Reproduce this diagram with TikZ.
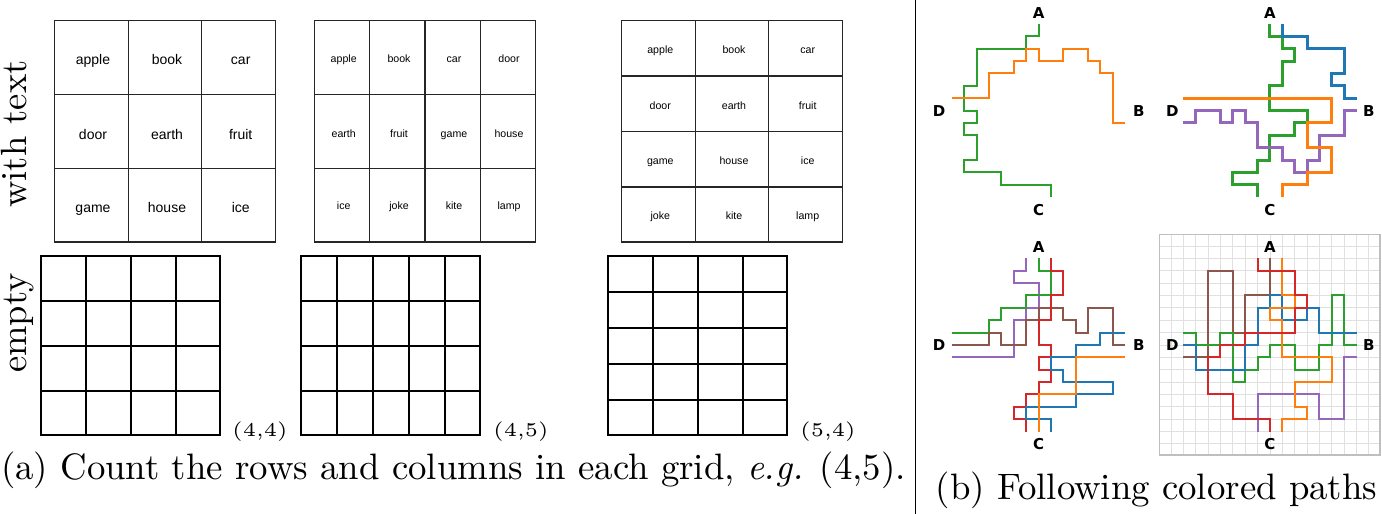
\documentclass[tikz,border=0pt]{standalone}
\usepackage{fontspec}
\setmainfont{lmroman10-regular.otf}[ItalicFont=lmroman10-italic.otf, BoldFont=lmroman10-bold.otf]
\newfontfamily\lmfive{lmroman5-regular.otf}
\newfontfamily\arialf{Liberation Sans}
\newfontfamily\dejaf{DejaVu Sans}
\definecolor{tblue}{HTML}{1F77B4}
\definecolor{torange}{HTML}{FF7F0E}
\definecolor{tgreen}{HTML}{2CA02C}
\definecolor{tred}{HTML}{D62728}
\definecolor{tpurple}{HTML}{9467BD}
\definecolor{tbrown}{HTML}{8C564B}
\tikzset{
  tgrid/.style={draw=black!85, line width=1.1pt},
  egrid/.style={draw=black, line width=2pt},
  wordL/.style={font=\arialf\fontsize{14}{16}\selectfont, anchor=base, inner sep=0pt},
  wordS/.style={font=\arialf\fontsize{10.6}{12}\selectfont, anchor=base, inner sep=0pt},
  dimlab/.style={font=\lmfive\fontsize{19.5}{22}\selectfont, anchor=base, inner sep=0pt},
  caplab/.style={font=\fontsize{36.8}{42}\selectfont, anchor=base, inner sep=0pt},
  sidelab/.style={font=\fontsize{36.5}{42}\selectfont, anchor=base, inner sep=0pt, rotate=90},
  ptlab/.style={font=\dejaf\bfseries\fontsize{15}{18}\selectfont, inner sep=0pt},
  pth/.style={line width=2pt},
  pthick/.style={line width=3pt},
  bggrid/.style={draw=black!12, line width=0.8pt},
  bgbox/.style={draw=black!25, line width=1.2pt}
}
\begin{document}
\begin{tikzpicture}[x=1pt,y=-1pt]
\useasboundingbox (0,0) rectangle (1382,514);
\fill[white] (0,0) rectangle (1382,514);

% ---------- text grid 1 (3x3)
\draw[tgrid] (54.3,20.7) rectangle (275.3,242);
\foreach \x in {128.3,201.7} \draw[tgrid] (\x,20.7) -- (\x,242);
\foreach \y in {94.7,168.7} \draw[tgrid] (54.3,\y) -- (275.3,\y);
\foreach \w/\x in {apple/93,book/167,car/240.7} \node[wordL] (ga-\w) at (\x,64) {\w};
\foreach \w/\x in {door/93,earth/167,fruit/240.7} \node[wordL] (ga-\w) at (\x,139) {\w};
\foreach \w/\x in {game/93,house/167,ice/240.7} \node[wordL] (ga-\w) at (\x,212) {\w};

% ---------- text grid 2 (3 rows x 4 cols)
\draw[tgrid] (314.3,20.7) rectangle (535.3,242);
\foreach \x in {369.7,425,480.3} \draw[tgrid] (\x,20.7) -- (\x,242);
\foreach \y in {94.7,168.7} \draw[tgrid] (314.3,\y) -- (535.3,\y);
\foreach \w/\x in {apple/343.7,book/399,car/454,door/509} \node[wordS] (gb-\w) at (\x,62) {\w};
\foreach \w/\x in {earth/343.7,fruit/399,game/454,house/509} \node[wordS] (gb-\w) at (\x,137) {\w};
\foreach \w/\x in {ice/343.7,joke/399,kite/454,lamp/509} \node[wordS] (gb-\w) at (\x,209.5) {\w};

% ---------- text grid 3 (4 rows x 3 cols)
\draw[tgrid] (621.7,20.7) rectangle (842.3,242);
\foreach \x in {695.3,768.7} \draw[tgrid] (\x,20.7) -- (\x,242);
\foreach \y in {76,131.7,187} \draw[tgrid] (621.7,\y) -- (842.3,\y);
\foreach \w/\x in {apple/660.3,book/734,car/807.7} \node[wordS] (gc-\w) at (\x,53.3) {\w};
\foreach \w/\x in {door/660.3,earth/734,fruit/807.7} \node[wordS] (gc-\w) at (\x,109.3) {\w};
\foreach \w/\x in {game/660.3,house/734,ice/807.7} \node[wordS] (gc-\w) at (\x,164) {\w};
\foreach \w/\x in {joke/660.3,kite/734,lamp/807.7} \node[wordS] (gc-\w) at (\x,219) {\w};

% ---------- empty grids
\draw[egrid] (40.7,255.7) rectangle (220,435);
\foreach \x in {86,130.7,175.7} \draw[egrid] (\x,255.7) -- (\x,435);
\foreach \y in {301,346,390.7} \draw[egrid] (40.7,\y) -- (220,\y);

\draw[egrid] (301,255.7) rectangle (480,435);
\foreach \x in {336.7,372.7,408.7,444.7} \draw[egrid] (\x,255.7) -- (\x,435);
\foreach \y in {301,346,390.7} \draw[egrid] (301,\y) -- (480,\y);

\draw[egrid] (607.7,255.7) rectangle (787,435);
\foreach \x in {652.7,697.7,742.7} \draw[egrid] (\x,255.7) -- (\x,435);
\foreach \y in {291.7,327.7,363.7,399.7} \draw[egrid] (607.7,\y) -- (787,\y);

\node[dimlab] (d44) at (260,436) {(4,4)};
\node[dimlab] (d45) at (521,436) {(4,5)};
\node[dimlab] (d54) at (828,436) {(5,4)};

\node[sidelab] (swt) at (27,134) {with text};
\node[sidelab] (sem) at (27,323) {empty};

\node[caplab] (capa) at (453.5,479) {(a) Count the rows and columns in each grid, \textit{e.g.} (4,5).};

% ---------- divider
\draw[line width=1.4pt] (915.5,0) -- (915.5,514);

% ---------- panel 1
\begin{scope}[shift={(964.33pt,-24pt)}, x=12.37pt, y=-12.37pt]
\draw[pth, tgreen] (6,0)--(6,1)--(5,1)--(5,2)--(1,2)--(1,5)--(0,5)--(0,7)--(1,7)--(1,8)--(0,8)--(0,9)--(1,9)--(1,11)--(0,11)--(0,12)--(3,12)--(3,13)--(7,13)--(7,14);
\draw[pth, torange] (-1,6)--(2,6)--(2,4)--(4,4)--(4,3)--(5,3)--(5,2)--(6,2)--(6,3)--(8,3)--(8,2)--(10,2)--(10,3)--(11,3)--(11,4)--(12,4)--(12,8)--(13,8);
\node[ptlab] (p1A) at (6,-0.85) {A};
\node[ptlab] (p1B) at (14.1,7) {B};
\node[ptlab] (p1C) at (6,15) {C};
\node[ptlab] (p1D) at (-2.05,7) {D};
\end{scope}

% ---------- panel 2
\begin{scope}[shift={(1183.33pt,-24pt)}, x=12.37pt, y=-12.37pt]
\draw[pthick, tgreen] (7,0)--(7,1)--(8,1)--(8,2)--(9,2)--(9,3)--(8,3)--(8,5)--(7,5)--(7,7)--(10,7)--(10,8)--(9,8)--(9,9)--(7,9)--(7,11)--(6,11)--(6,12)--(4,12)--(4,13)--(6,13)--(6,14);
\draw[pthick, tblue] (8,0)--(8,1)--(10,1)--(10,2)--(13,2)--(13,4)--(12,4)--(12,5)--(13,5)--(13,6)--(14,6);
\draw[pthick, tpurple] (0,8)--(1,8)--(1,7)--(3,7)--(3,8)--(4,8)--(4,7)--(5,7)--(5,8)--(6,8)--(6,10)--(8,10)--(8,11)--(9,11)--(9,12)--(10,12)--(10,11)--(11,11)--(11,9)--(13,9)--(13,7)--(14,7);
\draw[pthick, torange] (0,6)--(12,6)--(12,8)--(10,8)--(10,10)--(12,10)--(12,12)--(10,12)--(10,13)--(8,13)--(8,14);
\node[ptlab] (p2A) at (7,-0.85) {A};
\node[ptlab] (p2B) at (15,7) {B};
\node[ptlab] (p2C) at (7,15) {C};
\node[ptlab] (p2D) at (-0.88,7) {D};
\end{scope}

% ---------- panel 3
\begin{scope}[shift={(964.33pt,-258.33pt)}, x=12.37pt, y=-12.37pt]
\draw[pth, tpurple] (5,0)--(5,1)--(4,1)--(4,2)--(6,2)--(6,4)--(5,4)--(5,5)--(4,5)--(4,8)--(-1,8);
\draw[pth, tgreen] (6,0)--(6,1)--(7,1)--(7,3)--(5,3)--(5,4)--(3,4)--(3,5)--(2,5)--(2,6)--(-1,6);
\draw[pth, tbrown] (-1,7)--(2,7)--(2,6)--(3,6)--(3,7)--(5,7)--(5,5)--(6,5)--(6,4)--(8,4)--(8,5)--(9,5)--(9,6)--(10,6)--(10,4)--(12,4)--(12,7)--(13,7);
\draw[pth, tred] (7,0)--(7,1)--(8,1)--(8,3)--(7,3)--(7,5)--(6,5)--(6,7)--(7,7)--(7,8)--(6,8)--(6,9)--(7,9)--(7,10)--(6,10)--(6,11)--(5,11)--(5,12)--(4,12)--(4,13)--(5,13)--(5,14);
\draw[pth, tblue] (13,6)--(11,6)--(11,7)--(9,7)--(9,8)--(7,8)--(7,9)--(8,9)--(8,10)--(12,10)--(12,11)--(9,11)--(9,12)--(5,12)--(5,13)--(7,13)--(7,14);
\draw[pth, torange] (13,8)--(9,8)--(9,11)--(6,11)--(6,14);
\node[ptlab] (p3A) at (6,-0.89) {A};
\node[ptlab] (p3B) at (14.1,7) {B};
\node[ptlab] (p3C) at (6,15) {C};
\node[ptlab] (p3D) at (-2.05,7) {D};
\end{scope}

% ---------- panel 4
\begin{scope}[shift={(1183.33pt,-258.33pt)}, x=12.37pt, y=-12.37pt]
\foreach \i in {-1,...,15} {
  \draw[bggrid] (\i,-1.9) -- (\i,15.9);
  \draw[bggrid] (-1.9,\i) -- (15.9,\i);
}
\draw[bgbox] (-1.9,-1.9) rectangle (15.9,15.9);
\draw[pth, tbrown] (7,0)--(7,3)--(5,3)--(5,6)--(4,6)--(4,1)--(2,1)--(2,8)--(0,8);
\draw[pth, tgreen] (0,6)--(1,6)--(1,7)--(3,7)--(3,6)--(4,6)--(4,10)--(5,10)--(5,9)--(6,9)--(6,8)--(7,8)--(7,7)--(9,7)--(9,9)--(11,9)--(11,7)--(12,7)--(12,3)--(13,3)--(13,7)--(14,7);
\draw[pth, tblue] (0,7)--(1,7)--(1,9)--(5,9)--(5,7)--(6,7)--(6,4)--(7,4)--(7,3)--(8,3)--(8,5)--(10,5)--(10,4)--(11,4)--(11,6)--(14,6);
\draw[pth, tpurple] (14,8)--(13,8)--(13,13)--(11,13)--(11,11)--(6,11)--(6,14);
\draw[pth, torange] (8,0)--(8,3)--(9,3)--(9,4)--(7,4)--(7,5)--(8,5)--(8,8)--(12,8)--(12,10)--(9,10)--(9,12)--(10,12)--(10,13)--(8,13)--(8,14);
\draw[pth, tred] (6,0)--(6,1)--(9,1)--(9,3)--(10,3)--(10,4)--(9,4)--(9,6)--(5,6)--(5,7)--(3,7)--(3,8)--(2,8)--(2,11)--(4,11)--(4,13)--(7,13)--(7,14);
\node[ptlab] (p4A) at (7,-0.89) {A};
\node[ptlab] (p4B) at (15,7) {B};
\node[ptlab] (p4C) at (7,15) {C};
\node[ptlab] (p4D) at (-0.88,7) {D};
\end{scope}

\node[caplab] (capb) at (1156.5,499) {(b) Following colored paths};
\end{tikzpicture}
\end{document}
